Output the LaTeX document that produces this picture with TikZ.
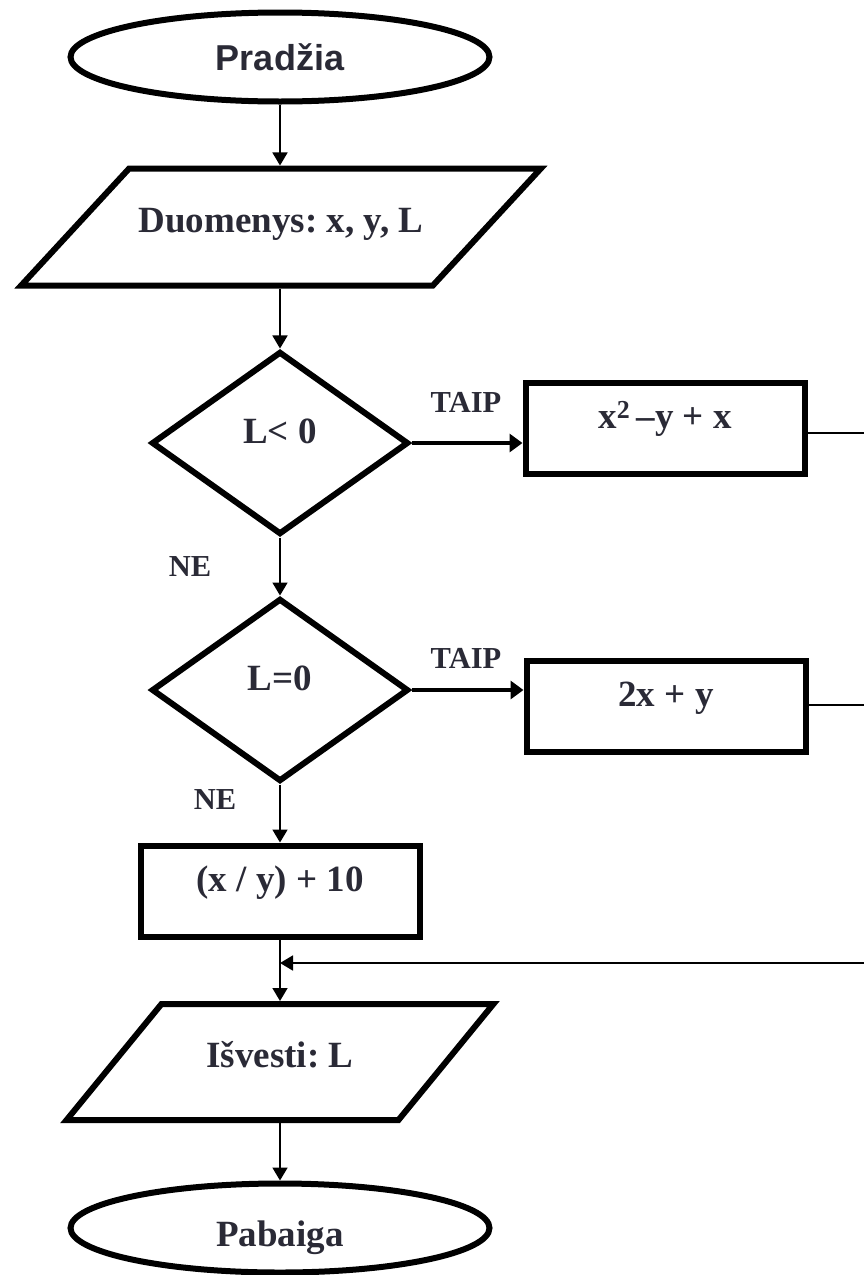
\documentclass[tikz,border=0pt]{standalone}
\usepackage{fontspec}
\setmainfont{Liberation Serif}
\newfontfamily\headsans{Liberation Sans}
\usetikzlibrary{arrows.meta,shapes.geometric}
\definecolor{inkgray}{RGB}{42,42,54}
\tikzset{>={Triangle[length=13pt,width=15pt]},
         every node/.style={text=inkgray},
         bigtext/.style={font=\fontsize{37}{44}\selectfont\bfseries\frenchspacing},
         smalltext/.style={font=\fontsize{30.5}{36}\selectfont\bfseries},
         terminal/.style={ellipse, draw=black, line width=6pt, minimum width=419pt, minimum height=89pt, bigtext},
         inout/.style={trapezium, draw=black, line width=6pt, inner ysep=36pt, bigtext, text height=28pt, text depth=17pt},
         decision/.style={diamond, draw=black, line width=6pt, minimum width=257pt, minimum height=183pt, bigtext, text height=26pt, text depth=26pt},
         process/.style={rectangle, draw=black, line width=6pt, minimum width=279pt, minimum height=91pt, bigtext, text height=26pt, text depth=26pt},
         flow/.style={line width=1.8pt},
         yesflow/.style={line width=4pt, -{Triangle[length=13pt,width=18pt]}}}

\begin{document}
\begin{tikzpicture}[x=1pt, y=-1pt]
  \useasboundingbox (0,0) rectangle (864,1275);

  \node[terminal, font=\fontsize{36}{43}\selectfont\headsans\bfseries] (start) at (280,57) {Pradžia};
  \node[inout, inner xsep=9.5pt, trapezium left angle=47.3, trapezium right angle=132.7] (in1) at (281,227) {Duomenys: x, y, L};
  \node[decision] (d1) at (280,443) {L< 0};
  \node[decision] (d2) at (280,690) {L=0};
  \node[process] (b1) at (665,428) {x\textsuperscript{2}\,–y + x};
  \node[process] (b2) at (666,706) {2x + y};
  \node[process] (b3) at (280,891) {(x / y) + 10};
  \node[inout, inner xsep=45pt, inner ysep=35.5pt, trapezium left angle=50.7, trapezium right angle=129.3] (out2) at (280,1062) {Išvesti: L};
  \node[terminal, text height=36pt, text depth=0pt] (end) at (280,1228) {Pabaiga};

  \node[smalltext] (taip1) at (466,402) {TAIP};
  \node[smalltext] (taip2) at (466,658) {TAIP};
  \node[smalltext] (ne1) at (190,567) {NE};
  \node[smalltext] (ne2) at (215,800) {NE};

  \coordinate (r1) at (864,433);
  \coordinate (r2) at (864,705);
  \coordinate (r3) at (864,963);

  \draw[flow,->] (start) -- (start |- in1.north);
  \draw[flow,->] (start |- in1.south) -- (d1);
  \draw[yesflow] (d1.east) -- (d1.east -| b1.west);
  \draw[flow,->] (d1) -- (d2);
  \draw[yesflow] (d2.east) -- (d2.east -| b2.west);
  \draw[flow,->] (d2) -- (b3);
  \draw[flow,->] (b3) -- (out2);
  \draw[flow,->] (out2) -- (end);
  \draw[flow] (r1 -| b1.east) -- (r1);
  \draw[flow] (r2 -| b2.east) -- (r2);
  \draw[flow,->] (r3) -- (r3 -| b3);
\end{tikzpicture}
\end{document}
